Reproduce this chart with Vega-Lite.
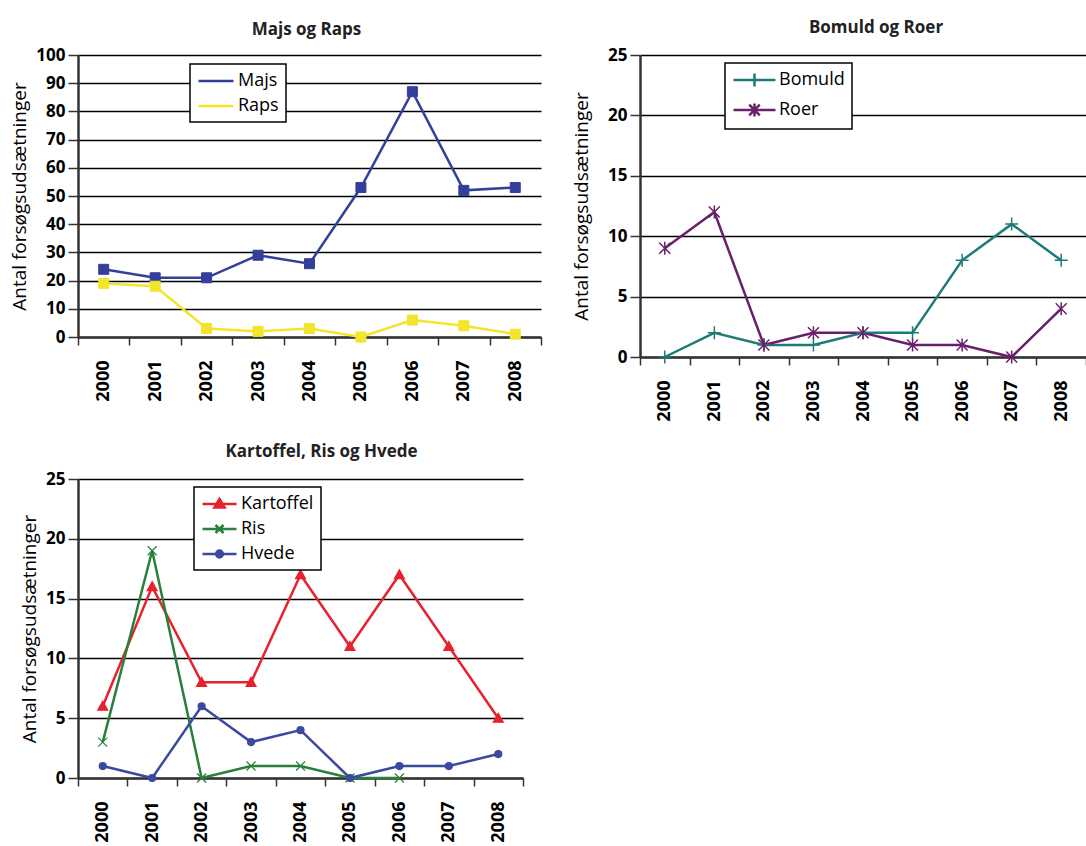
{
  "$schema": "https://vega.github.io/schema/vega-lite/v6.json",
  "background": "white",
  "padding": {"left": 10, "top": 19, "right": 0, "bottom": 0},
  "resolve": {"scale": {"color": "independent", "shape": "independent", "stroke": "independent"}, "legend": {"color": "independent", "shape": "independent", "stroke": "independent"}},
  "spacing": 21,
  "config": {
    "font": "Open Sans",
    "view": {"stroke": null},
    "axis": {"labelColor": "black", "labelFontWeight": "bold", "labelFontSize": 17, "domainColor": "#333", "domainWidth": 2.5, "tickColor": "#333", "tickWidth": 1.5, "titleColor": "black", "titleFontWeight": "normal", "titleFontSize": 19},
    "axisX": {"labelAngle": -90, "tickBand": "extent", "grid": false, "title": null, "labelFontSize": 18, "labelPadding": 15, "tickSize": 8},
    "axisY": {"grid": true, "gridColor": "black", "gridWidth": 1.6, "labelPadding": 3, "tickSize": 10, "titlePadding": 6},
    "title": {"fontSize": 17, "fontWeight": "bold", "color": "#222", "offset": 9},
    "legend": {"title": null, "orient": "none", "strokeColor": "black", "fillColor": "white", "strokeWidth": 1.5, "padding": 7, "labelFontSize": 18, "labelColor": "black", "symbolStrokeWidth": 2.5, "symbolSize": 289, "rowPadding": 6}
  },
  "vconcat": [
    {
      "resolve": {"scale": {"color": "independent", "shape": "independent", "stroke": "independent"}, "legend": {"color": "independent", "shape": "independent", "stroke": "independent"}},
      "spacing": 30,
      "hconcat": [
        {
          "title": {"text": "Majs og Raps", "dx": -3, "offset": 7},
          "width": 463, "height": 282,
          "data": {"values": [
            {"year": "2000", "series": "Majs", "value": 24}, {"year": "2001", "series": "Majs", "value": 21}, {"year": "2002", "series": "Majs", "value": 21}, {"year": "2003", "series": "Majs", "value": 29}, {"year": "2004", "series": "Majs", "value": 26}, {"year": "2005", "series": "Majs", "value": 53}, {"year": "2006", "series": "Majs", "value": 87}, {"year": "2007", "series": "Majs", "value": 52}, {"year": "2008", "series": "Majs", "value": 53},
            {"year": "2000", "series": "Raps", "value": 19}, {"year": "2001", "series": "Raps", "value": 18}, {"year": "2002", "series": "Raps", "value": 3}, {"year": "2003", "series": "Raps", "value": 2}, {"year": "2004", "series": "Raps", "value": 3}, {"year": "2005", "series": "Raps", "value": 0}, {"year": "2006", "series": "Raps", "value": 6}, {"year": "2007", "series": "Raps", "value": 4}, {"year": "2008", "series": "Raps", "value": 1}
          ]},
          "encoding": {
            "x": {"field": "year", "type": "nominal", "bandPosition": 0.5, "scale": {"type": "band", "paddingInner": 0, "paddingOuter": 0}},
            "y": {"field": "value", "type": "quantitative", "scale": {"domain": [0, 100], "nice": false}, "axis": {"values": [0, 10, 20, 30, 40, 50, 60, 70, 80, 90, 100], "title": "Antal forsøgsudsætninger"}}
          },
          "resolve": {"scale": {"color": "independent", "shape": "independent", "stroke": "independent"}, "legend": {"color": "independent", "shape": "independent", "stroke": "independent"}},
          "layer": [
            {"mark": {"type": "line", "strokeWidth": 2.5},
             "encoding": {"color": {"field": "series", "type": "nominal", "scale": {"domain": ["Majs", "Raps"], "range": ["#333F99", "#F2E52B"]}, "legend": null}}},
            {"mark": {"type": "point", "filled": true, "opacity": 1, "size": 100, "strokeWidth": 1},
             "encoding": {
               "color": {"field": "series", "type": "nominal", "scale": {"domain": ["Majs", "Raps"], "range": ["#333F99", "#F2E52B"]}, "legend": null},
               "shape": {"field": "series", "type": "nominal", "scale": {"domain": ["Majs", "Raps"], "range": ["M-1,-1H1V1H-1Z", "M-1,-1H1V1H-1Z"]}, "legend": null},
               "stroke": {"field": "series", "type": "nominal", "scale": {"domain": ["Majs", "Raps"], "range": ["#333F99", "#F2E52B"]}, "legend": null}
             }},
            {"transform": [{"filter": "datum.value > 1000"}],
             "mark": {"type": "point", "filled": true, "opacity": 1},
             "encoding": {
               "color": {"field": "series", "type": "nominal", "scale": {"domain": ["Majs", "Raps"], "range": ["#333F99", "#F2E52B"]},
                 "legend": {"title": null, "orient": "none", "legendX": 112, "legendY": 9, "labelOffset": 21}},
               "shape": {"field": "series", "type": "nominal", "scale": {"domain": ["Majs", "Raps"], "range": ["M-1,0H3.12", "M-1,0H3.12"]},
                 "legend": {"title": null, "orient": "none", "legendX": 112, "legendY": 9, "labelOffset": 21}},
               "stroke": {"field": "series", "type": "nominal", "scale": {"domain": ["Majs", "Raps"], "range": ["#333F99", "#F2E52B"]},
                 "legend": {"title": null, "orient": "none", "legendX": 112, "legendY": 9, "labelOffset": 21}}
             }}
          ]
        },
        {
          "title": {"text": "Bomuld og Roer", "dx": 13},
          "width": 446, "height": 302,
          "data": {"values": [
            {"year": "2000", "series": "Bomuld", "value": 0}, {"year": "2001", "series": "Bomuld", "value": 2}, {"year": "2002", "series": "Bomuld", "value": 1}, {"year": "2003", "series": "Bomuld", "value": 1}, {"year": "2004", "series": "Bomuld", "value": 2}, {"year": "2005", "series": "Bomuld", "value": 2}, {"year": "2006", "series": "Bomuld", "value": 8}, {"year": "2007", "series": "Bomuld", "value": 11}, {"year": "2008", "series": "Bomuld", "value": 8},
            {"year": "2000", "series": "Roer", "value": 9}, {"year": "2001", "series": "Roer", "value": 12}, {"year": "2002", "series": "Roer", "value": 1}, {"year": "2003", "series": "Roer", "value": 2}, {"year": "2004", "series": "Roer", "value": 2}, {"year": "2005", "series": "Roer", "value": 1}, {"year": "2006", "series": "Roer", "value": 1}, {"year": "2007", "series": "Roer", "value": 0}, {"year": "2008", "series": "Roer", "value": 4}
          ]},
          "encoding": {
            "x": {"field": "year", "type": "nominal", "bandPosition": 0.5, "scale": {"type": "band", "paddingInner": 0, "paddingOuter": 0}},
            "y": {"field": "value", "type": "quantitative", "scale": {"domain": [0, 25], "nice": false}, "axis": {"values": [0, 5, 10, 15, 20, 25], "title": "Antal forsøgsudsætninger", "titlePadding": 16}}
          },
          "resolve": {"scale": {"color": "independent", "shape": "independent", "stroke": "independent"}, "legend": {"color": "independent", "shape": "independent", "stroke": "independent"}},
          "layer": [
            {"mark": {"type": "line", "strokeWidth": 2.5},
             "encoding": {"color": {"field": "series", "type": "nominal", "scale": {"domain": ["Bomuld", "Roer"], "range": ["#1E7B77", "#6A1F6B"]}, "legend": null}}},
            {"mark": {"type": "point", "filled": true, "opacity": 1, "size": 100, "strokeWidth": 1.5},
             "encoding": {
               "color": {"field": "series", "type": "nominal", "scale": {"domain": ["Bomuld", "Roer"], "range": ["#1E7B77", "#6A1F6B"]}, "legend": null},
               "shape": {"field": "series", "type": "nominal", "scale": {"domain": ["Bomuld", "Roer"], "range": ["M-1.3,0H1.3M0,-1.3V1.3", "M-1.1,-1.1L1.1,1.1M-1.1,1.1L1.1,-1.1M0,-1.3V1.3"]}, "legend": null},
               "stroke": {"field": "series", "type": "nominal", "scale": {"domain": ["Bomuld", "Roer"], "range": ["#1E7B77", "#6A1F6B"]}, "legend": null}
             }},
            {"transform": [{"filter": "datum.value > 1000"}],
             "mark": {"type": "point", "filled": true, "opacity": 1},
             "encoding": {
               "color": {"field": "series", "type": "nominal", "scale": {"domain": ["Bomuld", "Roer"], "range": ["#1E7B77", "#6A1F6B"]},
                 "legend": {"title": null, "orient": "none", "legendX": 85, "legendY": 8, "labelOffset": 27}},
               "shape": {"field": "series", "type": "nominal", "scale": {"domain": ["Bomuld", "Roer"], "range": ["M-1,0H3.94M1.47,-0.76V0.76", "M-1,0H3.94M0.85,-0.62L2.09,0.62M0.85,0.62L2.09,-0.62M1.47,-0.76V0.76"]},
                 "legend": {"title": null, "orient": "none", "legendX": 85, "legendY": 8, "labelOffset": 27}},
               "stroke": {"field": "series", "type": "nominal", "scale": {"domain": ["Bomuld", "Roer"], "range": ["#1E7B77", "#6A1F6B"]},
                 "legend": {"title": null, "orient": "none", "legendX": 85, "legendY": 8, "labelOffset": 27}}
             }}
          ]
        }
      ]
    },
    {
      "title": {"text": "Kartoffel, Ris og Hvede", "dx": 21},
      "width": 445, "height": 299,
      "data": {"values": [
        {"year": "2000", "series": "Kartoffel", "value": 6}, {"year": "2001", "series": "Kartoffel", "value": 16}, {"year": "2002", "series": "Kartoffel", "value": 8}, {"year": "2003", "series": "Kartoffel", "value": 8}, {"year": "2004", "series": "Kartoffel", "value": 17}, {"year": "2005", "series": "Kartoffel", "value": 11}, {"year": "2006", "series": "Kartoffel", "value": 17}, {"year": "2007", "series": "Kartoffel", "value": 11}, {"year": "2008", "series": "Kartoffel", "value": 5},
        {"year": "2000", "series": "Ris", "value": 3}, {"year": "2001", "series": "Ris", "value": 19}, {"year": "2002", "series": "Ris", "value": 0}, {"year": "2003", "series": "Ris", "value": 1}, {"year": "2004", "series": "Ris", "value": 1}, {"year": "2005", "series": "Ris", "value": 0}, {"year": "2006", "series": "Ris", "value": 0},
        {"year": "2000", "series": "Hvede", "value": 1}, {"year": "2001", "series": "Hvede", "value": 0}, {"year": "2002", "series": "Hvede", "value": 6}, {"year": "2003", "series": "Hvede", "value": 3}, {"year": "2004", "series": "Hvede", "value": 4}, {"year": "2005", "series": "Hvede", "value": 0}, {"year": "2006", "series": "Hvede", "value": 1}, {"year": "2007", "series": "Hvede", "value": 1}, {"year": "2008", "series": "Hvede", "value": 2}
      ]},
      "encoding": {
        "x": {"field": "year", "type": "nominal", "bandPosition": 0.5, "scale": {"type": "band", "paddingInner": 0, "paddingOuter": 0}},
        "y": {"field": "value", "type": "quantitative", "scale": {"domain": [0, 25], "nice": false}, "axis": {"values": [0, 5, 10, 15, 20, 25], "title": "Antal forsøgsudsætninger", "titlePadding": 6}}
      },
      "resolve": {"scale": {"color": "independent", "shape": "independent", "stroke": "independent"}, "legend": {"color": "independent", "shape": "independent", "stroke": "independent"}},
      "layer": [
        {"mark": {"type": "line", "strokeWidth": 2.5},
         "encoding": {"color": {"field": "series", "type": "nominal", "scale": {"domain": ["Kartoffel", "Ris", "Hvede"], "range": ["#E8212E", "#2A7F3B", "#3A4AA0"]}, "legend": null}}},
        {"mark": {"type": "point", "filled": true, "opacity": 1, "size": 100, "strokeWidth": 1.2},
         "encoding": {
           "color": {"field": "series", "type": "nominal", "scale": {"domain": ["Kartoffel", "Ris", "Hvede"], "range": ["#E8212E", "#2A7F3B", "#3A4AA0"]}, "legend": null},
           "shape": {"field": "series", "type": "nominal", "scale": {"domain": ["Kartoffel", "Ris", "Hvede"], "range": ["M0,-1L1,0.8H-1Z", "M-0.9,-0.9L0.9,0.9M-0.9,0.9L0.9,-0.9", "M0.7,0A0.7,0.7,0,1,1,-0.7,0A0.7,0.7,0,1,1,0.7,0Z"]}, "legend": null},
           "stroke": {"field": "series", "type": "nominal", "scale": {"domain": ["Kartoffel", "Ris", "Hvede"], "range": ["#E8212E", "#2A7F3B", "#3A4AA0"]}, "legend": null}
         }},
        {"transform": [{"filter": "datum.value > 1000"}],
         "mark": {"type": "point", "filled": true, "opacity": 1},
         "encoding": {
           "color": {"field": "series", "type": "nominal", "scale": {"domain": ["Kartoffel", "Ris", "Hvede"], "range": ["#E8212E", "#2A7F3B", "#3A4AA0"]},
             "legend": {"title": null, "orient": "none", "legendX": 116, "legendY": 8, "labelOffset": 20}},
           "shape": {"field": "series", "type": "nominal", "scale": {"domain": ["Kartoffel", "Ris", "Hvede"], "range": ["M-1,0H3M1,-0.6L1.6,0.4H0.4Z", "M-1,0H3M0.53,-0.47L1.47,0.47M0.53,0.47L1.47,-0.47", "M-1,0H3M1.4,0A0.4,0.4,0,1,1,0.6,0A0.4,0.4,0,1,1,1.4,0Z"]},
             "legend": {"title": null, "orient": "none", "legendX": 116, "legendY": 8, "labelOffset": 20}},
           "stroke": {"field": "series", "type": "nominal", "scale": {"domain": ["Kartoffel", "Ris", "Hvede"], "range": ["#E8212E", "#2A7F3B", "#3A4AA0"]},
             "legend": {"title": null, "orient": "none", "legendX": 116, "legendY": 8, "labelOffset": 20}}
         }}
      ]
    }
  ]
}
